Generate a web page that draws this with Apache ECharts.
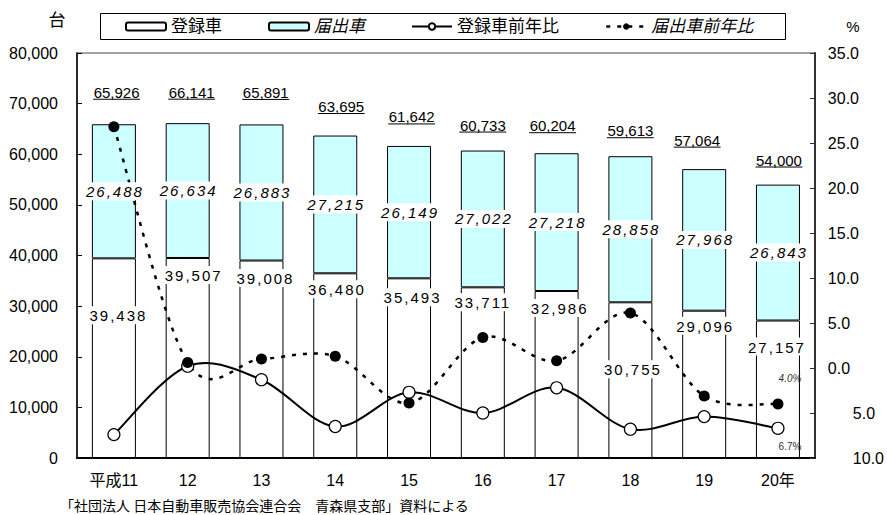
<!DOCTYPE html>
<html>
<head>
<meta charset="utf-8">
<script src="https://cdn.jsdelivr.net/npm/echarts@6/dist/echarts.min.js"></script>
<style>
  html, body { margin: 0; padding: 0; background: #fff; }
  #chart { width: 887px; height: 515px; }
  /* bar value labels are set with wide tracking */
  #chart text[style*="Arial"] { letter-spacing: 2px; }
</style>
</head>
<body>
<div id="chart"></div>
<script>
// ---- data ----
const years = ['平成11', '12', '13', '14', '15', '16', '17', '18', '19', '20年'];
const registered = [39438, 39507, 39008, 36480, 35493, 33711, 32986, 30755, 29096, 27157];
const notified = [26488, 26634, 26883, 27215, 26149, 27022, 27218, 28858, 27968, 26843];
const totals = [65926, 66141, 65891, 63695, 61642, 60733, 60204, 59613, 57064, 54000];
const registeredYoY = [-7.4, 0.2, -1.3, -6.5, -2.7, -5.0, -2.2, -6.8, -5.4, -6.7];
const notifiedYoY = [26.8, 0.6, 1.0, 1.3, -3.9, 3.4, 0.8, 6.1, -3.1, -4.0];
const leftTicks = { min: 0, max: 80000, step: 10000 };
const rightTicks = { min: -10, max: 35, step: 5 };

// ---- label placement tweaks (px) ----
const regLabelDrop = [48, 8, 8.5, 7, 10, 6, 8, 58, 6, 17];
const regLabelShift = [4.5, 6, 4, 1.7, 3.5, 0, 3, 2.5, 1, -1];
const totalLift = [32, 31, 32, 29, 29, 25.5, 27.5, 25.5, 29, 24.6];
const totalShift = [2.7, 4, 4.3, 6, 2.6, 0, -4, 0, -7, 1];

const FONT = "'Liberation Sans', 'Noto Sans CJK JP', sans-serif";
const SPACED = "'Liberation Sans', Arial, sans-serif";
const fmt = v => Number(v).toLocaleString('en-US');

const measureCtx = document.createElement('canvas').getContext('2d');
measureCtx.font = "15px 'Liberation Sans'";

const chart = echarts.init(document.getElementById('chart'), null, { renderer: 'svg' });

const boxLabel = {
  show: true,
  color: '#000',
  fontSize: 15,
  fontFamily: SPACED,
  backgroundColor: '#fff',
  padding: [2, 6, 1, 6],
  formatter: p => fmt(p.value)
};

// Cardinal (Catmull-Rom style) curve through the points of one ratio series,
// drawn on the right-hand axis.
function curveSeries(values, width, dash) {
  return {
    type: 'custom', yAxisIndex: 1, z: 3, silent: true,
    data: values.map((v, i) => [i, v]),
    renderItem(params, api) {
      if (params.dataIndex !== 0) return null;
      const pts = values.map((v, j) => api.coord([j, v]));
      const last = pts.length - 1;
      let d = `M${pts[0][0]},${pts[0][1]}`;
      for (let j = 0; j < last; j++) {
        const p0 = pts[Math.max(j - 1, 0)];
        const p1 = pts[j];
        const p2 = pts[j + 1];
        const p3 = pts[Math.min(j + 2, last)];
        const c1x = p1[0] + (p2[0] - p0[0]) / 6;
        const c1y = p1[1] + (p2[1] - p0[1]) / 6;
        const c2x = p2[0] - (p3[0] - p1[0]) / 6;
        const c2y = p2[1] - (p3[1] - p1[1]) / 6;
        d += ` C${c1x},${c1y} ${c2x},${c2y} ${p2[0]},${p2[1]}`;
      }
      return {
        type: 'path',
        shape: { pathData: d },
        style: { fill: 'none', stroke: '#000', lineWidth: width, lineDash: dash }
      };
    }
  };
}

const option = {
  animation: false,
  backgroundColor: '#fff',
  grid: {
    left: 77, right: 69, top: 53, bottom: 57,
    show: true, borderColor: '#888', borderWidth: 1.5, backgroundColor: 'transparent'
  },
  legend: {
    left: 125, top: 18, padding: 0, itemGap: 46, itemWidth: 40, itemHeight: 8,
    selectedMode: false, z: 5,
    textStyle: { fontSize: 17, fontFamily: FONT, color: '#000' },
    data: [
      { name: '登録車' },
      { name: '届出車', textStyle: { fontStyle: 'italic' } },
      { name: '登録車前年比', lineStyle: { color: '#000', width: 2 } },
      { name: '届出車前年比', textStyle: { fontStyle: 'italic' }, lineStyle: { color: '#000', width: 2.5, type: [4, 7] } }
    ]
  },
  graphic: [
    { type: 'rect', z: 1, shape: { x: 100.5, y: 13.5, width: 685, height: 26 },
      style: { fill: '#fff', stroke: '#000', lineWidth: 1 } },
    { type: 'text', x: 57, y: 18, style: { text: '台', font: "17px 'Noto Sans CJK JP'", fill: '#000', align: 'center', verticalAlign: 'middle' } },
    { type: 'text', x: 853, y: 26, style: { text: '%', font: "15px 'Liberation Sans'", fill: '#000', align: 'center', verticalAlign: 'middle' } },
    { type: 'text', x: 60, y: 505, style: { text: '「社団法人 日本自動車販売協会連合会　青森県支部」資料による', font: "14px 'Noto Sans CJK JP'", fill: '#000', align: 'left', verticalAlign: 'middle' } }
  ],
  xAxis: {
    type: 'category',
    data: years,
    axisLine: { lineStyle: { color: '#000', width: 2 } },
    axisTick: { inside: true, length: 5, lineStyle: { color: '#000' } },
    axisLabel: { fontSize: 16, color: '#000', fontFamily: FONT, margin: 14, interval: 0 }
  },
  yAxis: [
    {
      type: 'value', position: 'left',
      min: leftTicks.min, max: leftTicks.max, interval: leftTicks.step,
      splitLine: { show: false },
      axisLine: { show: true, lineStyle: { color: '#000', width: 1.5 } },
      axisTick: { show: true, inside: true, length: 5, lineStyle: { color: '#000' } },
      axisLabel: { fontSize: 16, color: '#000', fontFamily: FONT, margin: 19, formatter: v => fmt(v) }
    },
    {
      type: 'value', position: 'right',
      min: rightTicks.min, max: rightTicks.max, interval: rightTicks.step,
      splitLine: { show: false },
      axisLine: { show: true, lineStyle: { color: '#333', width: 2 } },
      axisTick: { show: true, inside: true, length: 5, lineStyle: { color: '#333' } },
      axisLabel: {
        fontSize: 16, color: '#000', fontFamily: FONT, margin: 13,
        formatter: v => v < 0 ? `{n|${Math.abs(v).toFixed(1)}}` : v.toFixed(1),
        rich: { n: { fontSize: 16, color: '#000', fontFamily: FONT, padding: [0, 0, 0, 25] } }
      }
    }
  ],
  series: [
    {
      name: '登録車', type: 'bar', stack: 'cars', barWidth: 44, barGap: '-100%', z: 2,
      itemStyle: { color: '#fff', borderColor: '#000', borderWidth: 1 },
      data: registered
    },
    {
      name: '届出車', type: 'bar', stack: 'cars', barWidth: 44, barGap: '-100%', z: 2,
      itemStyle: { color: '#ccffff', borderColor: '#000', borderWidth: 1 },
      data: notified
    },
    curveSeries(registeredYoY, 2, null),
    curveSeries(notifiedYoY, 2.5, [4, 7]),
    {
      name: '登録車前年比', type: 'line', yAxisIndex: 1, z: 3,
      symbol: 'circle', symbolSize: 12,
      lineStyle: { color: 'rgba(0,0,0,0)', width: 2 },
      itemStyle: { color: '#fff', borderColor: '#000', borderWidth: 1.2 },
      data: registeredYoY.map((v, i) => i === registeredYoY.length - 1 ? {
        value: v,
        label: { show: true, position: 'inside', offset: [12, 18], fontSize: 10, color: '#333', fontFamily: FONT,
                 formatter: p => Math.abs(p.value).toFixed(1) + '%' }
      } : v)
    },
    {
      name: '届出車前年比', type: 'line', yAxisIndex: 1, z: 3,
      symbol: 'circle', symbolSize: 11,
      lineStyle: { color: 'rgba(0,0,0,0)', width: 2.5, type: [4, 7] },
      itemStyle: { color: '#000' },
      data: notifiedYoY.map((v, i) => i === notifiedYoY.length - 1 ? {
        value: v,
        label: { show: true, position: 'inside', offset: [12, -26], fontSize: 10, fontStyle: 'italic', color: '#333', fontFamily: FONT,
                 formatter: p => Math.abs(p.value).toFixed(1) + '%' }
      } : v)
    },
    // value boxes drawn above the lines
    {
      type: 'bar', stack: 'labels', barWidth: 44, barGap: '-100%', z: 4, silent: true,
      itemStyle: { color: 'transparent' },
      label: Object.assign({}, boxLabel, { position: 'insideTop', distance: 0 }),
      data: registered.map((v, i) => ({ value: v, label: { offset: [regLabelShift[i], regLabelDrop[i]] } }))
    },
    {
      type: 'bar', stack: 'labels', barWidth: 44, barGap: '-100%', z: 4, silent: true,
      itemStyle: { color: 'transparent' },
      label: Object.assign({}, boxLabel, { position: 'inside', fontStyle: 'italic', offset: [1, 0] }),
      data: notified
    },
    // underlined totals above each bar
    {
      type: 'custom', z: 5, silent: true,
      data: totals.map((v, i) => [i, v]),
      renderItem(params, api) {
        const i = api.value(0);
        const v = api.value(1);
        const p = api.coord([i, v]);
        const txt = fmt(v);
        const w = measureCtx.measureText(txt).width + 1;
        const cx = p[0] + totalShift[i];
        const cy = p[1] - totalLift[i];
        return {
          type: 'group',
          children: [
            { type: 'text', x: cx, y: cy,
              style: { text: txt, fill: '#000', font: "15px 'Liberation Sans', sans-serif",
                       align: 'center', verticalAlign: 'middle', textAlign: 'center', textVerticalAlign: 'middle' } },
            { type: 'line', shape: { x1: cx - w / 2, y1: cy + 7, x2: cx + w / 2, y2: cy + 7 },
              style: { stroke: '#000', lineWidth: 1 } }
          ]
        };
      }
    }
  ]
};

chart.setOption(option);
</script>
</body>
</html>
